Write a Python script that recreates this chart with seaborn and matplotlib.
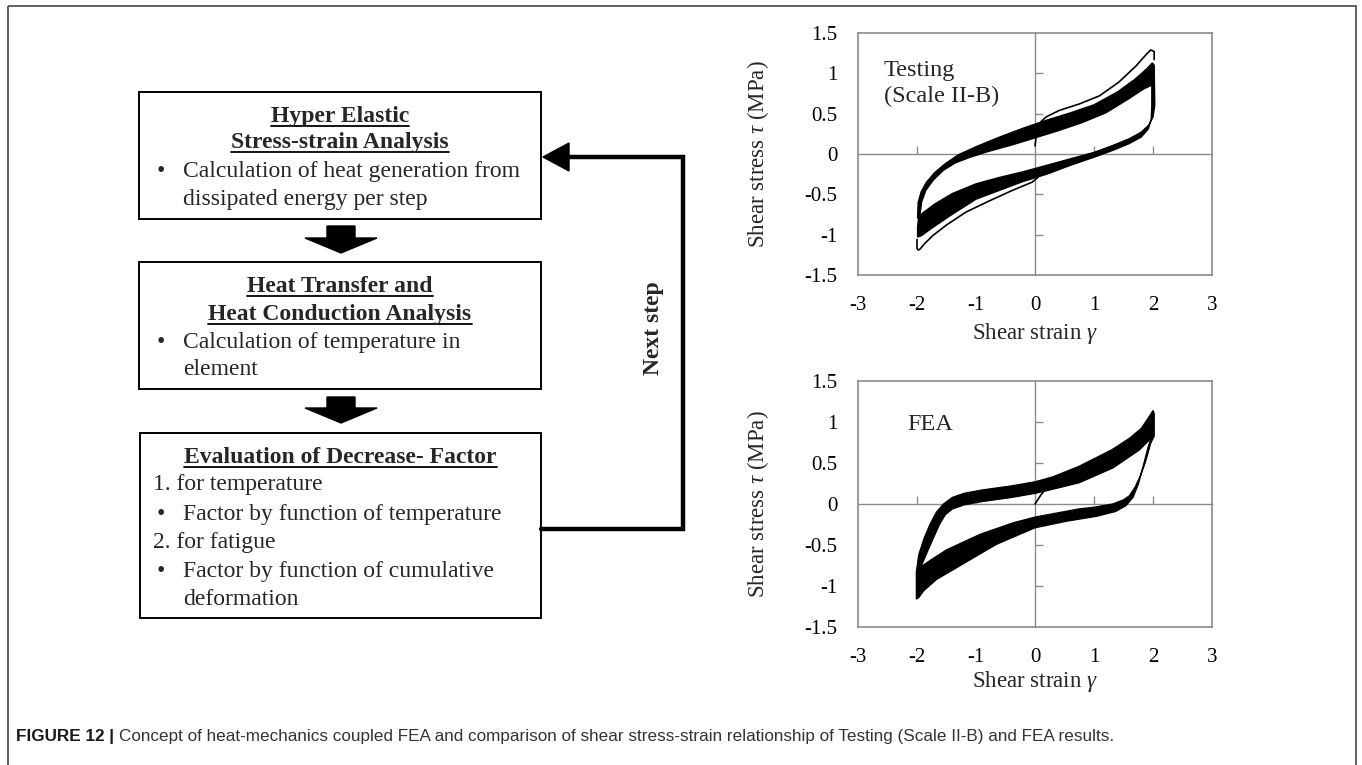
import seaborn as sns
import matplotlib.pyplot as plt
from matplotlib.patches import Rectangle, Polygon
from matplotlib.ticker import NullFormatter

# ---------------- values ----------------
strain_ticks = [-3, -2, -1, 0, 1, 2, 3]
strain_labels = ["-3", "-2", "-1", "0", "1", "2", "3"]
stress_ticks = [-1.5, -1, -0.5, 0, 0.5, 1, 1.5]
stress_labels = ["-1.5", "-1", "-0.5", "0", "0.5", "1", "1.5"]
zero_strain_ticks = [-2, -1, 1, 2]
zero_stress_ticks = [-1, -0.5, 0.5, 1]

# Testing (Scale II-B): first cycle (thin line)
test_load_strain = [0.00, 0.02, 0.03, 0.10, 0.19, 0.41, 0.75, 1.09, 1.42, 1.71, 1.88, 1.96, 2.02, 2.02]
test_load_stress = [0.10, 0.22, 0.34, 0.40, 0.46, 0.54, 0.62, 0.72, 0.89, 1.09, 1.23, 1.29, 1.27, 1.17]
test_unload_strain = [0.05, -0.05, -0.38, -0.77, -1.17, -1.50, -1.73, -1.87, -1.95, -1.98, -2.00, -2.00]
test_unload_stress = [-0.29, -0.35, -0.45, -0.58, -0.72, -0.88, -1.01, -1.11, -1.18, -1.19, -1.17, -1.06]

# Testing: outline of the black band of repeated cycles, loading branch
test_up_strain = [-1.99, -1.98, -1.93, -1.84, -1.70, -1.52, -1.30, -1.00, -0.60, -0.20, 0.20, 0.60,
                  1.00, 1.40, 1.70, 1.90, 1.99, 2.02,
                  2.00, 1.85, 1.60, 1.20, 0.80, 0.40, 0.00, -0.40, -0.80, -1.10, -1.35, -1.55,
                  -1.72, -1.85, -1.92, -1.95]
test_up_stress = [-0.80, -0.60, -0.47, -0.35, -0.23, -0.12, -0.01, 0.09, 0.21, 0.32, 0.42, 0.51,
                  0.61, 0.77, 0.93, 1.06, 1.13, 1.10,
                  0.86, 0.81, 0.69, 0.51, 0.39, 0.29, 0.20, 0.11, 0.03, -0.04, -0.11, -0.20,
                  -0.32, -0.45, -0.59, -0.75]
# Testing: unloading branch band
test_dn_strain = [2.02, 2.03, 2.00, 1.93, 1.80, 1.60, 1.30, 1.00, 0.60, 0.20, -0.20, -0.60, -1.00,
                  -1.40, -1.70, -1.90, -1.97, -1.99, -1.99,
                  -1.92, -1.75, -1.45, -1.00, -0.60, -0.20, 0.20, 0.60, 1.00, 1.30, 1.60, 1.80,
                  1.92, 1.97, 1.98, 1.98]
test_dn_stress = [1.10, 0.60, 0.46, 0.36, 0.27, 0.19, 0.10, 0.02, -0.06, -0.14, -0.22, -0.29, -0.37,
                  -0.49, -0.62, -0.73, -0.78, -0.90, -1.03,
                  -1.01, -0.92, -0.77, -0.56, -0.45, -0.34, -0.25, -0.14, -0.04, 0.04, 0.13, 0.21,
                  0.31, 0.43, 0.60, 1.05]

# FEA: initial loading (thin line)
fea_load_strain = [0.00, 0.10, 0.22]
fea_load_stress = [0.00, 0.11, 0.22]

# FEA: loading branch band
fea_up_strain = [-2.01, -1.97, -1.88, -1.78, -1.67, -1.55, -1.40, -1.20, -0.90, -0.40, 0.00, 0.30,
                 0.75, 1.30, 1.60, 1.80, 1.95, 2.00, 2.02,
                 2.02, 1.95, 1.77, 1.32, 0.75, 0.30, 0.00, -0.40, -0.90, -1.20, -1.40, -1.52,
                 -1.62, -1.72, -1.83, -1.93, -1.98]
fea_up_stress = [-0.83, -0.62, -0.42, -0.25, -0.10, 0.00, 0.08, 0.13, 0.17, 0.22, 0.27, 0.33,
                 0.46, 0.66, 0.80, 0.92, 1.08, 1.14, 1.10,
                 0.83, 0.79, 0.66, 0.44, 0.26, 0.18, 0.13, 0.08, 0.03, -0.01, -0.06, -0.13,
                 -0.25, -0.41, -0.59, -0.76, -0.83]
# FEA: unloading branch band
fea_dn_strain = [2.02, 1.96, 1.87, 1.79, 1.70, 1.60, 1.50, 1.32, 1.00, 0.75, 0.30, 0.00, -0.37,
                 -0.93, -1.50, -1.78, -1.98, -2.01, -2.01,
                 -1.97, -1.89, -1.67, -1.22, -0.65, 0.00, 0.53, 1.04, 1.37, 1.54, 1.66, 1.75,
                 1.83, 1.92, 1.98]
fea_dn_stress = [0.83, 0.74, 0.51, 0.35, 0.21, 0.10, 0.05, 0.00, -0.04, -0.06, -0.12, -0.16, -0.23,
                 -0.37, -0.56, -0.69, -0.79, -0.83, -1.16,
                 -1.14, -1.06, -0.92, -0.73, -0.49, -0.29, -0.21, -0.15, -0.09, -0.02, 0.08, 0.24,
                 0.45, 0.70, 0.83]

# flowchart text
box1_title = ["Hyper Elastic", "Stress-strain Analysis"]
box1_lines = [("•", "Calculation of heat generation from"), ("", "dissipated energy per step")]
box2_title = ["Heat Transfer and", "Heat Conduction Analysis"]
box2_lines = [("•", "Calculation of temperature in"), ("", "element")]
box3_title = ["Evaluation of Decrease- Factor"]
box3_lines = [("1.", "for temperature"), ("•", "Factor by function of temperature"),
              ("2.", "for fatigue"), ("•", "Factor by function of cumulative"),
              ("", "deformation")]
loop_label = "Next step"
caption_head = "FIGURE 12 |"
caption_body = ("Concept of heat-mechanics coupled FEA and comparison of shear stress-strain "
                "relationship of Testing (Scale II-B) and FEA results.")

# ---------------- style ----------------
sns.set_theme(style="white")
plt.rcParams["font.family"] = ["Liberation Serif", "DejaVu Serif"]
plt.rcParams["mathtext.fontset"] = "custom"
plt.rcParams["mathtext.it"] = "Liberation Serif:italic"
plt.rcParams["mathtext.rm"] = "Liberation Serif"
plt.rcParams["axes.unicode_minus"] = False

gray = "#8a8a8a"
fig = plt.figure(figsize=(13.62, 7.65), dpi=100)

# pixel canvas for frame + flowchart
cv = fig.add_axes([0, 0, 1, 1], zorder=-1)
cv.set_xlim(0, 1362)
cv.set_ylim(765, 0)
cv.axis("off")
cv.add_patch(Rectangle((8, 6), 1348, 800, fill=False, ec="#555555", lw=1.3))

fs = 17
underlines = []


def draw_box(x0, y0, x1, y1, title, lines, title_y, line_y, num_x=153):
    cv.add_patch(Rectangle((x0, y0), x1 - x0, y1 - y0, fill=False, ec="black", lw=1.4))
    cx = (x0 + x1) / 2
    for t, y in zip(title, title_y):
        txt = cv.text(cx, y, t, ha="center", va="baseline", fontsize=fs, fontweight="bold")
        underlines.append((txt, y))
    for (mark, t), y in zip(lines, line_y):
        if mark == "•":
            cv.text(157, y, mark, ha="left", va="baseline", fontsize=fs)
            cv.text(183, y, t, ha="left", va="baseline", fontsize=fs)
        elif mark:
            cv.text(num_x, y, mark + " " + t, ha="left", va="baseline", fontsize=fs)
        else:
            cv.text(183, y, t, ha="left", va="baseline", fontsize=fs)


draw_box(139, 92, 541, 219, box1_title, box1_lines, [122, 148], [177, 205])
draw_box(139, 262, 541, 389, box2_title, box2_lines, [292, 320], [348, 375])
draw_box(140, 433, 541, 618, box3_title, box3_lines, [463], [490, 520, 548, 577, 605])

# block arrows between boxes
for top, base, tip in [(226, 238, 253), (397, 408, 423)]:
    cv.add_patch(Polygon([(327, top), (355, top), (355, base), (377, base), (341, tip),
                          (305, base), (327, base)], closed=True, color="black"))

# feedback loop
cv.plot([541, 683, 683, 566], [529, 529, 157, 157], color="black", lw=3.2,
        solid_joinstyle="miter")
cv.add_patch(Polygon([(543, 157), (569, 143), (569, 171)], closed=True, color="black"))
cv.text(654, 328, loop_label, rotation=90, ha="center", va="center", fontsize=fs,
        fontweight="bold")

# caption
cap1 = cv.text(16, 741, caption_head, ha="left", va="baseline", fontsize=12.3,
               fontweight="bold", family="Liberation Sans", color="#1a1a1a")


# ---------------- stress-strain panels ----------------
def panel(rect, bands, lines, tag, tag_xy, xlabel_y):
    ax = fig.add_axes(rect)
    for sx, sy in bands:
        ax.fill(sx, sy, color="black", ec="black", lw=1.0, zorder=3)
    for sx, sy in lines:
        sns.lineplot(x=sx, y=sy, sort=False, estimator=None, color="black", lw=1.2,
                     ax=ax, zorder=4)
    ax.set_xlim(-3, 3)
    ax.set_ylim(-1.5, 1.5)
    ax.set_xticks(strain_ticks, strain_labels)
    ax.set_yticks(stress_ticks, stress_labels)
    ax.tick_params(length=0, pad=15, labelsize=15, colors="black")
    for s in ax.spines.values():
        s.set_color(gray)
        s.set_linewidth(1.2)
    ax.set_xlabel(r"Shear strain $\gamma$", fontsize=16.5)
    ax.set_ylabel(r"Shear stress $\tau$ (MPa)", fontsize=16.5)
    ax.xaxis.set_label_coords(0.5, xlabel_y)
    ax.yaxis.set_label_coords(-0.245, 0.5)

    sx_ax = ax.secondary_xaxis(0.5)
    sx_ax.set_xticks(zero_strain_ticks)
    sx_ax.xaxis.set_major_formatter(NullFormatter())
    sx_ax.tick_params(length=6, width=1, color=gray, direction="out")
    sy_ax = ax.secondary_yaxis(0.5)
    sy_ax.set_yticks(zero_stress_ticks)
    sy_ax.yaxis.set_major_formatter(NullFormatter())
    sy_ax.tick_params(length=6, width=1, color=gray, direction="out")
    for sec in (sx_ax, sy_ax):
        for s in sec.spines.values():
            s.set_color(gray)
            s.set_linewidth(1.0)

    ax.text(tag_xy[0], tag_xy[1], tag, transform=ax.transAxes, ha="left", va="top",
            fontsize=17.5, linespacing=1.3)
    return ax


panel([858 / 1362, 1 - 275 / 765, 354 / 1362, 242 / 765],
      [(test_up_strain, test_up_stress), (test_dn_strain, test_dn_stress)],
      [(test_load_strain, test_load_stress), (test_unload_strain, test_unload_stress)],
      "Testing\n(Scale II-B)", (0.073, 0.888), -0.19)
panel([858 / 1362, 1 - 627 / 765, 354 / 1362, 246 / 765],
      [(fea_up_strain, fea_up_stress), (fea_dn_strain, fea_dn_stress)],
      [(fea_load_strain, fea_load_stress)],
      "FEA", (0.138, 0.866), -0.17)

# underline bold titles, place caption body after its head
fig.canvas.draw()
inv = cv.transData.inverted()
for txt, y in underlines:
    bb = txt.get_window_extent()
    xa, _ = inv.transform((bb.x0, bb.y0))
    xb, _ = inv.transform((bb.x1, bb.y0))
    cv.plot([xa, xb], [y + 4, y + 4], color="black", lw=1.3)
bb = cap1.get_window_extent()
xe, _ = inv.transform((bb.x1, bb.y0))
cv.text(xe + 5, 741, caption_body, ha="left", va="baseline", fontsize=12.3,
        family="Liberation Sans", color="#333333")

fig.savefig("out.png", dpi=100)
